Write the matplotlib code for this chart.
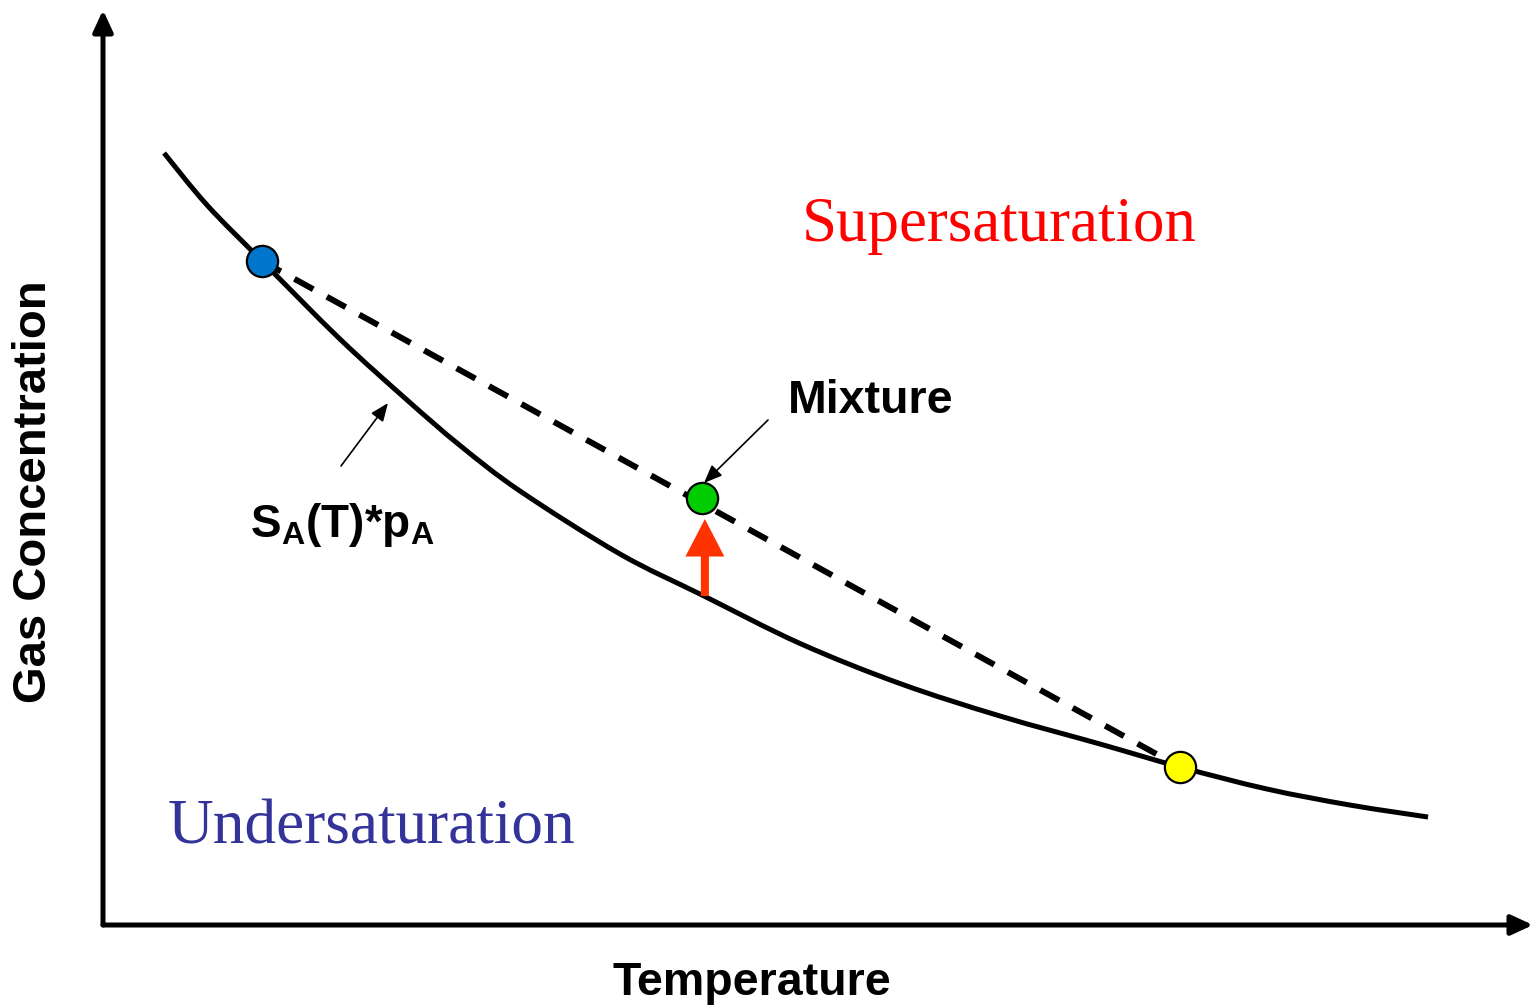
import matplotlib
matplotlib.use("Agg")
import matplotlib.pyplot as plt
from matplotlib.patches import FancyArrowPatch, PathPatch
from matplotlib.path import Path

plt.rcParams['mathtext.fontset'] = 'custom'
plt.rcParams['mathtext.rm'] = 'Liberation Sans:bold'
plt.rcParams['mathtext.bf'] = 'Liberation Sans:bold'
plt.rcParams['mathtext.it'] = 'Liberation Sans:bold'

# Solubility curve S_A(T)*p_A (temperature, equilibrium gas concentration)
curve_T = [4.27, 7.27, 11.12, 16.57, 21.26, 24.97, 29.16, 36.15, 41.96,
           48.74, 55.73, 62.73, 69.72, 75.31, 81.40, 87.20, 92.66]
curve_C = [84.37, 78.69, 72.57, 64.04, 57.38, 52.40, 47.43, 40.55, 36.01,
           30.77, 26.39, 22.84, 19.78, 17.27, 14.86, 13.11, 11.80]

# Cold water, warm water and their mixture
cold_T, cold_C = 11.12, 72.57
warm_T, warm_C = 75.31, 17.27
mix_T, mix_C = 41.89, 46.67
mix_eq_C = 35.96          # saturation level at the mixture temperature

W, H = 1533, 1008
fig = plt.figure(figsize=(W / 100, H / 100), dpi=100)
ax = fig.add_axes([103 / W, (H - 925) / H, (W - 103) / W, (925 - 10) / H])
ax.set_xlim(0, 100)
ax.set_ylim(0, 100)
ax.set_axis_off()

# Axes drawn as arrows
axis_style = dict(arrowstyle="-|>,head_length=13,head_width=6", lw=3.6,
                  color="black", shrinkA=0, shrinkB=0, mutation_scale=1)
ax.annotate("", xy=(0, 1), xytext=(0, 0), xycoords="axes fraction",
            arrowprops=axis_style, annotation_clip=False)
ax.annotate("", xy=(1, 0), xytext=(0, 0), xycoords="axes fraction",
            arrowprops=axis_style, annotation_clip=False)


def smooth_path(xs, ys):
    """Catmull-Rom spline through the points, as cubic Bezier segments."""
    pts = list(zip(xs, ys))
    verts = [pts[0]]
    codes = [Path.MOVETO]
    n = len(pts)
    for i in range(n - 1):
        p0 = pts[i - 1] if i > 0 else pts[i]
        p1, p2 = pts[i], pts[i + 1]
        p3 = pts[i + 2] if i + 2 < n else pts[i + 1]
        c1 = (p1[0] + (p2[0] - p0[0]) / 6, p1[1] + (p2[1] - p0[1]) / 6)
        c2 = (p2[0] - (p3[0] - p1[0]) / 6, p2[1] - (p3[1] - p1[1]) / 6)
        verts += [c1, c2, p2]
        codes += [Path.CURVE4] * 3
    return Path(verts, codes)


# Solubility curve
ax.add_patch(PathPatch(smooth_path(curve_T, curve_C), fill=False,
                       edgecolor="black", lw=3.6, capstyle="butt",
                       joinstyle="round", zorder=3))

# Mixing line
ax.plot([cold_T, warm_T], [cold_C, warm_C], color="black", lw=4.3,
        dashes=(3.6, 2.6), zorder=3)

# Red arrow from saturation to the mixture concentration
red = FancyArrowPatch((mix_T + 0.2, mix_eq_C), (mix_T + 0.2, mix_C - 2.3),
                      arrowstyle="simple,head_length=27,head_width=28,tail_width=5.8",
                      mutation_scale=1, color="#FF3300", lw=0,
                      shrinkA=0, shrinkB=0, zorder=4)
ax.add_patch(red)

# End-member and mixture points
ms = 22.5
ax.plot(cold_T, cold_C, "o", ms=ms, mfc="#0077CC", mec="black", mew=1.6, zorder=5)
ax.plot(warm_T, warm_C, "o", ms=ms, mfc="#FFFF00", mec="black", mew=1.6, zorder=5)
ax.plot(mix_T, mix_C, "o", ms=ms, mfc="#00CC00", mec="black", mew=1.6, zorder=5)


def px(x, y):
    """Pixel position in the figure to data coordinates."""
    return ((x - 103) / 14.30, (925 - y) / 9.15)


# Annotations
thin = dict(arrowstyle="-|>,head_length=11,head_width=4.5", lw=1.2,
            color="black", shrinkA=0, shrinkB=0, mutation_scale=1)
ax.annotate("", xy=px(704, 483), xytext=px(768, 420), arrowprops=thin)
ax.annotate("", xy=px(388, 403), xytext=px(341, 466), arrowprops=thin)

ax.text(*px(788, 413), "Mixture", fontfamily="Liberation Sans",
        fontweight="bold", fontsize=33.5, ha="left", va="baseline")
ax.text(*px(250, 537), r"$\mathbf{S_A(T)}$*$\mathbf{p_A}$",
        fontfamily="Liberation Sans", fontweight="bold", fontsize=33,
        ha="left", va="baseline")

ax.text(*px(802, 241), "Supersaturation", fontfamily="Liberation Serif",
        fontsize=45.3, color="#FF0000", ha="left", va="baseline")
ax.text(*px(168, 843), "Undersaturation", fontfamily="Liberation Serif",
        fontsize=45.5, color="#333399", ha="left", va="baseline")

# Axis titles
fig.text(752 / W, (H - 995) / H, "Temperature", fontfamily="Liberation Sans",
         fontweight="bold", fontsize=33.5, ha="center", va="baseline")
fig.text(34 / W, (H - 492) / H, "Gas Concentration", fontfamily="Liberation Sans",
         fontweight="bold", fontsize=34, rotation=90, ha="center", va="center")

fig.savefig("out.png", dpi=100)
